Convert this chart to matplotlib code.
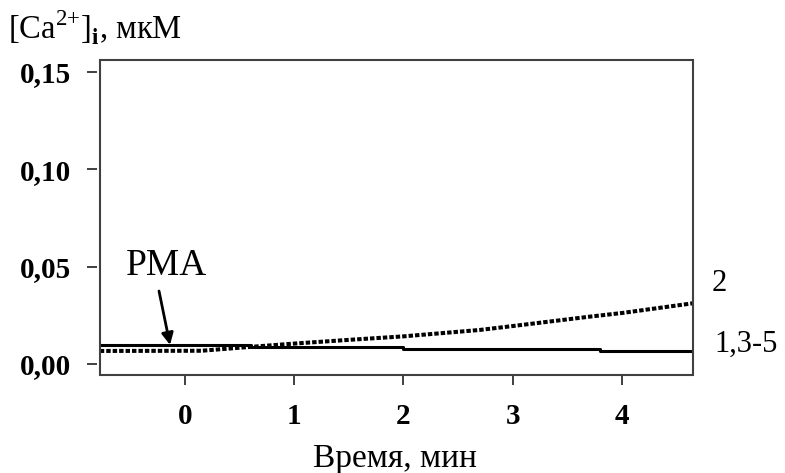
import matplotlib
matplotlib.use("Agg")
import matplotlib.pyplot as plt
from matplotlib.patches import Rectangle

plt.rcParams['font.family'] = ['Liberation Serif', 'DejaVu Serif']
plt.rcParams['mathtext.fontset'] = 'custom'
plt.rcParams['mathtext.rm'] = 'Liberation Serif'
plt.rcParams['mathtext.bf'] = 'Liberation Serif:bold'

# ── Data ──────────────────────────────────────────────────────────────
# curves 1,3-5 (solid, stepwise)
t_solid = [-0.78, 0.6, 2.0, 3.8, 4.65]
ca_solid = [0.0100, 0.0087, 0.0079, 0.0069, 0.0069]

# curve 2 (dotted, rising)
t_dot = [-0.78, 0.15, 0.6, 1.0, 1.5, 2.0, 2.7, 3.0, 3.7, 4.0, 4.65]
ca_dot = [0.0067, 0.0068, 0.0088, 0.0105, 0.0124, 0.0142, 0.0175, 0.0195,
          0.0243, 0.0262, 0.0312]

x_ticks = [0, 1, 2, 3, 4]
x_ticklabels = ['0', '1', '2', '3', '4']
y_ticks = [0.0, 0.05, 0.10, 0.15]
y_ticklabels = ['0,00', '0,05', '0,10', '0,15']

frame_col = '#404040'

fig = plt.figure(figsize=(7.85, 4.73), dpi=100)
ax = fig.add_axes([0.1274, 0.2072, 0.7554, 0.666])

ax.plot(t_solid, ca_solid, color='black', lw=2.2, drawstyle='steps-post',
        solid_capstyle='butt')
ax.plot(t_dot, ca_dot, color='black', lw=2.9, linestyle=(0, (1.1, 0.5)),
        dash_capstyle='butt')

ax.set_xlim(-0.778, 4.65)
ax.set_ylim(-0.00565, 0.1562)

# frame drawn separately so the y ticks can sit a little away from it
for s in ax.spines.values():
    s.set_color('none')
ax.spines['left'].set_position(('outward', 2.2))
ax.add_patch(Rectangle((0, 0), 1, 1, transform=ax.transAxes, fill=False,
                       edgecolor=frame_col, lw=1.5, clip_on=False, zorder=5))

ax.set_xticks(x_ticks)
ax.set_xticklabels(x_ticklabels, fontweight='bold')
ax.set_yticks(y_ticks)
ax.set_yticklabels(y_ticklabels, fontweight='bold')
ax.tick_params(axis='both', direction='out', length=7.2, width=1.4,
               color=frame_col, labelsize=21)
ax.tick_params(axis='y', pad=11.5)
ax.tick_params(axis='x', pad=13)

# axis titles
fig.text(394.5 / 785, 1 - 467 / 473, 'Время, мин', fontsize=24,
         ha='center', va='baseline')
fig.text(0.01, 1 - 39 / 473,
         r'[Ca$^{\text{2+}}$]$_{\mathbf{i}}$, мкМ',
         fontsize=23.5, va='baseline', ha='left')

# PMA marker
ax.annotate('', xy=(-0.137, 0.0098), xytext=(-0.238, 0.0375),
            arrowprops=dict(arrowstyle='-|>,head_length=0.7,head_width=0.35',
                            color='black', lw=2.0, shrinkA=0, shrinkB=0))
ax.text(-0.165, 0.0457, 'PMA', fontsize=27, ha='center', va='baseline')

# curve labels on the right
ax.text(4.82, 0.0414, '2', fontsize=22, ha='left', va='center', clip_on=False)
ax.text(4.85, 0.0100, '1,3-5', fontsize=22, ha='left', va='center',
        clip_on=False)

fig.savefig('out.png', dpi=100)
